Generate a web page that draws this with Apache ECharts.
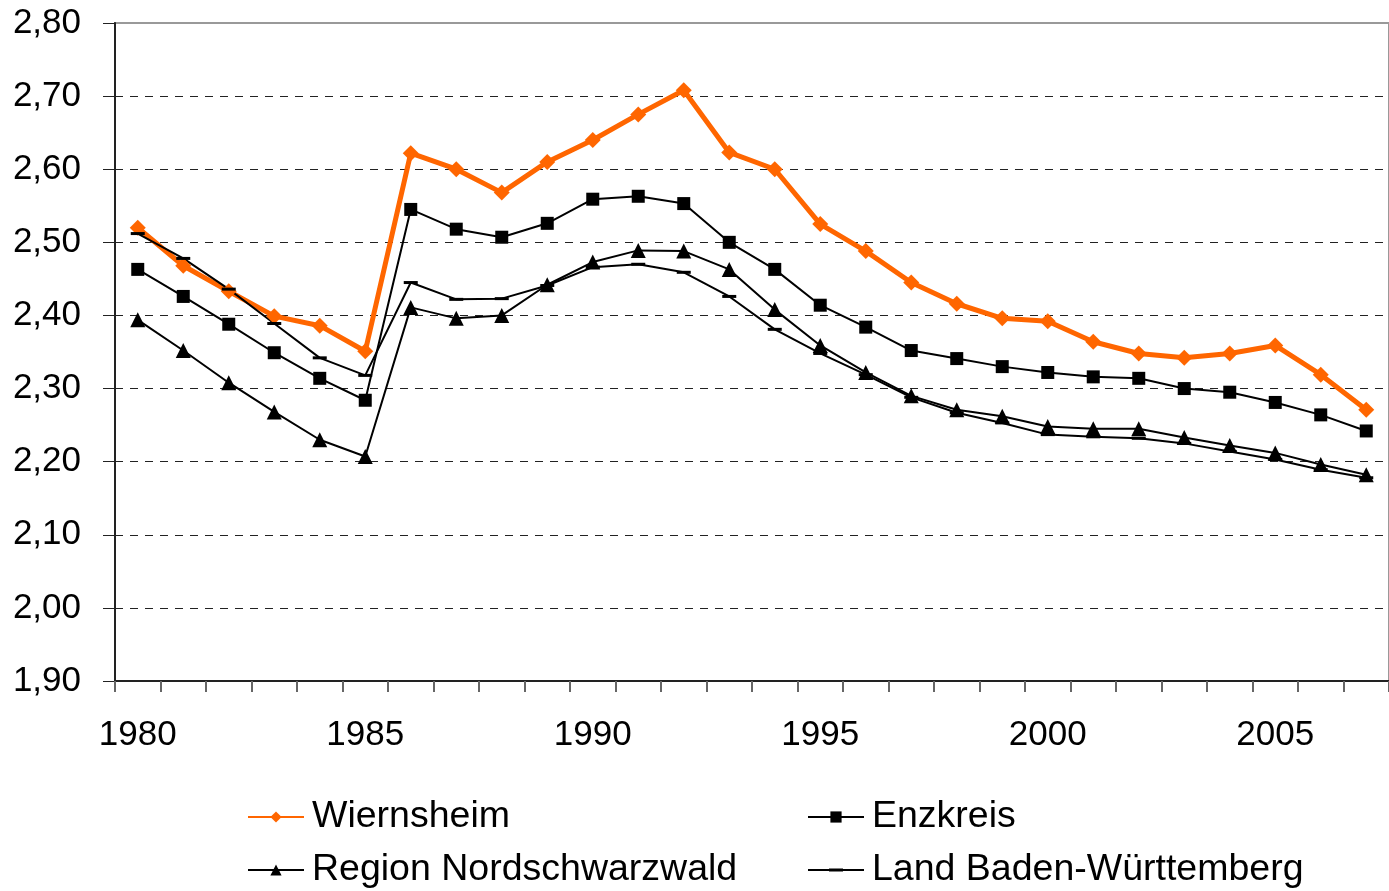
<!DOCTYPE html>
<html>
<head>
<meta charset="utf-8">
<title>Wiernsheim</title>
<script src="https://cdn.jsdelivr.net/npm/echarts@6/dist/echarts.min.js"></script>
<style>
  html, body { margin: 0; padding: 0; background: #fff; }
  #chart { width: 1389px; height: 891px; }
</style>
</head>
<body>
<div id="chart"></div>
<script>
const years = ['1980', '1981', '1982', '1983', '1984', '1985', '1986', '1987', '1988', '1989',
  '1990', '1991', '1992', '1993', '1994', '1995', '1996', '1997', '1998', '1999',
  '2000', '2001', '2002', '2003', '2004', '2005', '2006', '2007']

const wiernsheim = [2.52, 2.468, 2.433, 2.399, 2.386, 2.351, 2.622, 2.600, 2.568, 2.610,
  2.640, 2.675, 2.708, 2.623, 2.600, 2.525, 2.488, 2.445, 2.416, 2.396,
  2.392, 2.364, 2.348, 2.342, 2.348, 2.359, 2.319, 2.271]

const enzkreis = [2.463, 2.426, 2.388, 2.349, 2.314, 2.284, 2.545, 2.518, 2.507, 2.526,
  2.559, 2.563, 2.553, 2.500, 2.463, 2.414, 2.384, 2.352, 2.341, 2.330,
  2.322, 2.316, 2.314, 2.300, 2.295, 2.281, 2.264, 2.242]

const region = [2.394, 2.352, 2.308, 2.268, 2.230, 2.207, 2.411, 2.396, 2.400, 2.442,
  2.473, 2.489, 2.488, 2.463, 2.408, 2.359, 2.322, 2.290, 2.271, 2.262,
  2.248, 2.245, 2.245, 2.233, 2.222, 2.212, 2.196, 2.182]

const land = [2.512, 2.478, 2.436, 2.389, 2.342, 2.318, 2.445, 2.422, 2.423, 2.441,
  2.466, 2.470, 2.459, 2.426, 2.381, 2.348, 2.319, 2.288, 2.267, 2.253,
  2.237, 2.234, 2.232, 2.225, 2.214, 2.203, 2.189, 2.178]

const font = '"Liberation Sans", Arial, sans-serif'

// line + short dash for the legend; the two tiny squares only pin the box to 56x14
const dashIcon = 'path://M0,0h0.01v0.01h-0.01Z M56,14h-0.01v-0.01h0.01Z M0,6H56V8H0Z M21,5.5H35V8.5H21Z'

const blackLine = (name, data, symbol, symbolSize) => ({
  name: name,
  type: 'line',
  data: data,
  symbol: symbol,
  symbolSize: symbolSize,
  symbolKeepAspect: true,
  showAllSymbol: true,
  itemStyle: { color: '#000' },
  lineStyle: { color: '#000', width: 2 }
})

const chart = echarts.init(document.getElementById('chart'), null, { renderer: 'canvas' })

// two vertical legends side by side, so the columns line up like the original
const legendBase = {
  orient: 'vertical',
  top: 797,
  height: 120,
  padding: 0,
  itemWidth: 56,
  itemHeight: 14,
  itemGap: 13,
  textStyle: { fontFamily: font, fontSize: 37.5, lineHeight: 40, color: '#000', padding: [0, 0, 0, 3] }
}

const option = {
  backgroundColor: '#fff',
  animation: false,
  textStyle: { fontFamily: font },
  legend: [
    Object.assign({ left: 247, data: ['Wiernsheim', 'Region Nordschwarzwald'] }, legendBase),
    Object.assign({ left: 807, data: ['Enzkreis', { name: 'Land Baden-Württemberg', icon: dashIcon }] }, legendBase)
  ],
  grid: {
    left: 115,
    top: 23,
    width: 1288,
    height: 658,
    show: true,
    borderColor: '#999',
    borderWidth: 2
  },
  xAxis: {
    type: 'category',
    data: years,
    boundaryGap: true,
    axisLine: { lineStyle: { color: '#222', width: 2 } },
    axisTick: { show: true, interval: 0, length: 11, lineStyle: { color: '#666', width: 2 } },
    axisLabel: { interval: 4, fontSize: 35, color: '#000', margin: 37, fontFamily: font },
    splitLine: { show: false }
  },
  yAxis: {
    type: 'value',
    min: 1.9,
    max: 2.8,
    interval: 0.1,
    axisLine: { show: true, lineStyle: { color: '#222', width: 2 } },
    axisTick: { show: true, length: 12, lineStyle: { color: '#222', width: 1 } },
    axisLabel: {
      fontSize: 35,
      color: '#000',
      margin: 34,
      fontFamily: font,
      formatter: v => v.toFixed(2).replace('.', ',')
    },
    splitLine: {
      show: true,
      showMaxLine: false,
      lineStyle: { color: '#222', width: 1, type: [8, 7] }
    }
  },
  series: [
    {
      name: 'Wiernsheim',
      type: 'line',
      data: wiernsheim,
      symbol: 'diamond',
      symbolSize: 16,
      showAllSymbol: true,
      itemStyle: { color: '#ff6600' },
      lineStyle: { color: '#ff6600', width: 5 }
    },
    blackLine('Enzkreis', enzkreis, 'rect', 13),
    blackLine('Region Nordschwarzwald', region, 'triangle', 15),
    blackLine('Land Baden-Württemberg', land, 'path://M0,0H14V3H0Z', 14)
  ]
}

chart.setOption(option)
</script>
</body>
</html>
